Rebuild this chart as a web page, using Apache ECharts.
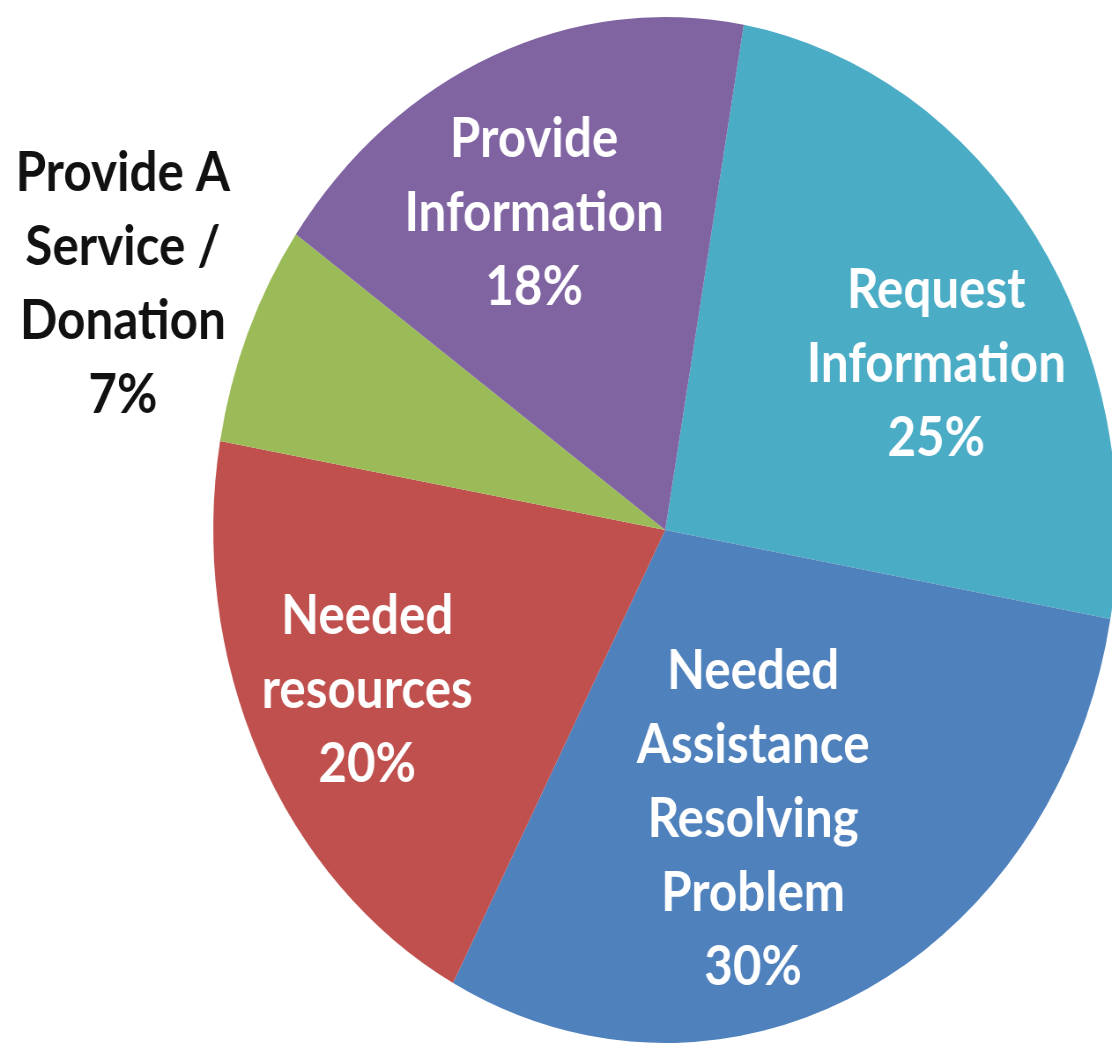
<!DOCTYPE html>
<html>
<head>
<meta charset="utf-8">
<title>Pie</title>
<script src="https://cdn.jsdelivr.net/npm/echarts@6/dist/echarts.min.js"></script>
<style>
  html, body { margin: 0; padding: 0; background: #fff; overflow: hidden; }
  /* the original pie is an ellipse, so the chart is squeezed sideways */
  #pie { width: 1262px; height: 1048px; transform: scaleX(0.8811); transform-origin: 0 0; }
</style>
</head>
<body>
<div id="pie"></div>
<script>
const categories = [
  'Request\nInformation',
  'Needed\nAssistance\nResolving\nProblem',
  'Needed\nresources',
  'Provide A\nService /\nDonation',
  'Provide\nInformation'
]
const values = [25, 30, 20, 7, 18]
const colors = ['#4BACC6', '#4F81BD', '#C0504D', '#9BBB59', '#8064A2']

// label shifts from the library's inside position, in unscaled px
const labelShift = [[95, -17], [-14, 56], [-105, 46], [-376, -146], [-50, -77]]

function drawChart(id) {
  const chart = echarts.init(document.getElementById(id))
  chart.setOption({
    animation: false,
    series: [
      {
        type: 'pie',
        center: [755, 530],
        radius: 513,
        startAngle: 80,
        clockwise: true,
        avoidLabelOverlap: false,
        silent: true,
        itemStyle: { borderWidth: 0 },
        label: {
          show: true,
          position: 'inside',
          formatter: '{b}\n{d}%',
          color: '#fff',
          fontFamily: 'Lato',
          fontWeight: 'bold',
          fontSize: 56,
          lineHeight: 74,
          align: 'center'
        },
        labelLine: { show: false },
        labelLayout: function(params) {
          const s = labelShift[params.dataIndex]
          return { dx: s[0], dy: s[1] }
        },
        data: categories.map(function(name, i) {
          const item = { name: name, value: values[i], itemStyle: { color: colors[i] } }
          if (i === 3) {
            item.label = { color: '#111' }
          }
          return item
        })
      }
    ]
  })
}

drawChart('pie')
</script>
</body>
</html>
